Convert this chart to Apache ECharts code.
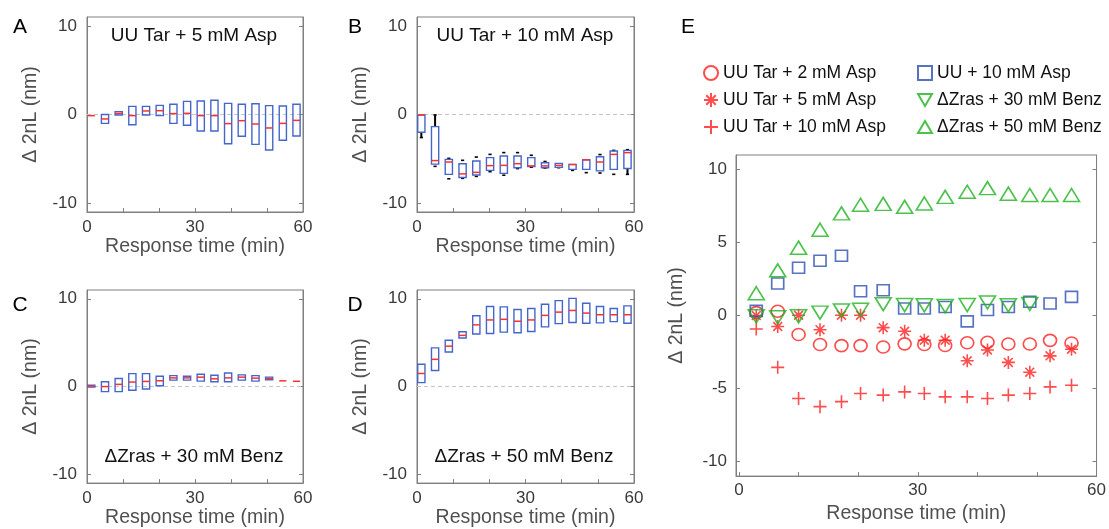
<!DOCTYPE html>
<html>
<head>
<meta charset="utf-8">
<script src="https://cdn.jsdelivr.net/npm/echarts@6/dist/echarts.min.js"></script>
<style>html,body{margin:0;padding:0;background:#fff;}#c{width:1109px;height:529px;}</style>
</head>
<body>
<div id="c"></div>
<script>
// ---------------- DATA ----------------
const boxTimes = [1.2, 5.0, 8.8, 12.6, 16.4, 20.2, 24.0, 27.8, 31.6, 35.4, 39.2, 43.0, 46.8, 50.6, 54.4, 58.2];
const xTicks = [0, 10, 20, 30, 40, 50, 60];
const xTickLabels = [0, 30, 60];
const yTicksBox = [-10, 0, 10];
const yTicksE = [-10, -5, 0, 5, 10];
const zeroLineX = [0, 60];

// Panel A: UU Tar + 5 mM Asp
const aQ3  = [-0.13, 0.0, 0.32, 0.92, 0.92, 1.03, 1.15, 1.48, 1.52, 1.6, 1.26, 1.15, 1.22, 1.0, 0.96, 1.15];
const aMed = [-0.13, -0.5, 0.13, -0.13, 0.4, 0.43, 0.1, 0.13, -0.13, -0.13, -1.03, -0.7, -1.07, -1.52, -1.0, -0.66];
const aQ1  = [-0.13, -1.0, -0.05, -1.15, -0.05, -0.13, -1.0, -1.22, -1.86, -1.86, -3.3, -2.46, -3.37, -4.0, -2.9, -2.43];

// Panel B: UU Tar + 10 mM Asp
const bHi  = [-0.05, -0.05, -4.95, -5.17, -4.8, -4.5, -4.3, -4.3, -4.6, -5.3, -5.51, -5.63, -5.1, -4.52, -4.05, -3.97];
const bQ3  = [-0.05, -1.37, -5.06, -5.55, -5.25, -4.87, -4.68, -4.68, -4.87, -5.44, -5.51, -5.63, -5.1, -4.76, -4.12, -4.05];
const bMed = [-0.05, -5.2, -5.36, -6.7, -6.53, -5.77, -5.74, -5.55, -5.8, -5.8, -5.74, -5.65, -5.12, -5.36, -4.5, -4.3];
const bQ1  = [-2.0, -5.6, -6.75, -7.1, -6.83, -6.3, -6.64, -6.0, -5.88, -6.0, -5.96, -6.19, -6.19, -6.36, -6.19, -6.1];
const bLo  = [-2.6, -5.85, -7.25, -7.2, -6.98, -6.45, -6.85, -6.1, -5.95, -6.05, -6.0, -6.3, -6.56, -6.6, -6.75, -6.75];

// Panel C: ΔZras + 30 mM Benz
const cQ3  = [0.15, 0.54, 0.92, 1.47, 1.47, 1.18, 1.25, 1.18, 1.4, 1.29, 1.55, 1.33, 1.25, 1.07, 0.65, 0.6];
const cMed = [0.05, 0.0, 0.25, 0.51, 0.58, 0.66, 0.99, 0.99, 1.07, 0.88, 0.99, 1.07, 0.96, 0.92, 0.65, 0.6];
const cQ1  = [-0.05, -0.58, -0.58, -0.43, -0.28, 0.09, 0.73, 0.73, 0.62, 0.54, 0.54, 0.73, 0.62, 0.77, 0.65, 0.6];

// Panel D: ΔZras + 50 mM Benz
const dQ3  = [2.54, 4.41, 5.27, 6.24, 8.07, 9.12, 9.08, 8.78, 8.89, 9.38, 9.79, 10.05, 9.49, 9.12, 8.89, 9.19];
const dMed = [1.49, 3.1, 4.6, 5.83, 7.03, 7.59, 7.66, 7.44, 7.59, 8.11, 8.48, 8.67, 8.37, 8.18, 8.18, 8.18];
const dQ1  = [0.45, 1.83, 3.93, 5.53, 5.98, 6.05, 6.2, 6.13, 6.28, 6.8, 7.17, 7.29, 7.21, 7.25, 7.4, 7.21];

// Panel E: medians
const eTimes = [2.9, 6.5, 10.0, 13.6, 17.2, 20.4, 24.2, 27.8, 31.1, 34.6, 38.3, 41.7, 45.2, 48.8, 52.2, 55.8];
const eTar2   = [0.2, 0.3, -1.3, -1.98, -2.06, -2.06, -2.15, -1.94, -1.98, -2.05, -1.86, -1.83, -1.95, -1.95, -1.7, -1.88];
const eTar5   = [0.0, -0.75, 0.02, -0.97, 0.02, 0.02, -0.83, -1.08, -1.69, -1.69, -3.1, -2.36, -3.21, -3.88, -2.76, -2.31];
const eTar10  = [-0.92, -3.55, -5.68, -6.24, -5.9, -5.34, -5.45, -5.23, -5.34, -5.57, -5.57, -5.68, -5.45, -5.34, -4.89, -4.78];
const eUU10   = [0.32, 2.2, 3.28, 3.75, 4.1, 1.66, 1.73, 0.49, 0.49, 0.58, -0.4, 0.38, 0.58, 0.94, 0.83, 1.28];
const eZras30 = [-0.05, -0.12, -0.05, 0.2, 0.35, 0.4, 0.78, 0.72, 0.7, 0.65, 0.72, 0.9, 0.7, 0.8];
const eZras50 = [1.53, 3.1, 4.65, 5.88, 7.0, 7.59, 7.65, 7.45, 7.68, 8.13, 8.48, 8.73, 8.35, 8.26, 8.26, 8.26];

const panelTitles = ['UU Tar + 5 mM Asp', 'UU Tar + 10 mM Asp', 'ΔZras + 30 mM Benz', 'ΔZras + 50 mM Benz'];
const legendNames = ['UU Tar + 2 mM Asp', 'UU Tar + 5 mM Asp', 'UU Tar + 10 mM Asp', 'UU + 10 mM Asp', 'ΔZras + 30 mM Benz', 'ΔZras + 50 mM Benz'];
const xName = 'Response time (min)';
const yName = 'Δ 2nL (nm)';

// ---------------- STYLE ----------------
const FONT = '"Liberation Sans", Arial, Helvetica, sans-serif';
const FRAME = '#7f7f7f';
const TXT = '#3a3a3a';
const BOX_BLUE = '#4466cc';
const MED_RED = '#ff3030';
const RED = '#ff1f1f', BLUE = '#2e4fb3', GREEN = '#1fb31f';
const BOX_HALF = 1.0;

const grids = [
  {left: 87, top: 17, width: 216, height: 195},
  {left: 417, top: 17, width: 217, height: 195},
  {left: 87, top: 290, width: 216, height: 195},
  {left: 417, top: 290, width: 217, height: 195},
  {left: 736, top: 155, width: 362, height: 327}
];

function boxData(lo, q1, med, q3, hi) {
  return boxTimes.map((t, i) => [t, lo[i], q1[i], med[i], q3[i], hi[i]]);
}

function renderBox(params, api) {
  const t = api.value(0);
  const lo = api.value(1), q1 = api.value(2), med = api.value(3), q3 = api.value(4), hi = api.value(5);
  const xl = api.coord([t - BOX_HALF, med])[0];
  const xr = api.coord([t + BOX_HALF, med])[0];
  const xc = api.coord([t, med])[0];
  const py = v => api.coord([t, v])[1];
  const ch = [];
  const addWhisker = (a, b) => {
    const ya = py(a), yb = py(b);
    if (Math.abs(yb - ya) > 5) {
      ch.push({type: 'line', shape: {x1: xc, y1: ya, x2: xc, y2: yb}, style: {stroke: '#000', lineWidth: 2}});
    }
    ch.push({type: 'line', shape: {x1: xc - 1.6, y1: ya, x2: xc + 1.6, y2: ya}, style: {stroke: '#000', lineWidth: 1.6}});
  };
  if (hi > q3 + 0.01) addWhisker(hi, q3);
  if (lo < q1 - 0.01) addWhisker(lo, q1);
  if (q3 > q1 + 0.01) {
    ch.push({type: 'rect', shape: {x: xl, y: py(q3), width: xr - xl, height: py(q1) - py(q3)},
      style: {fill: 'none', stroke: BOX_BLUE, lineWidth: 1.4}});
  }
  ch.push({type: 'line', shape: {x1: xl, y1: py(med), x2: xr, y2: py(med)}, style: {stroke: MED_RED, lineWidth: 1.5}});
  return {type: 'group', children: ch};
}

const xAxes = [], yAxes = [];
grids.forEach((g, i) => {
  const isE = i === 4;
  xAxes.push({
    gridIndex: i, type: 'value', min: isE ? -0.5 : 0, max: 60,
    axisLine: {show: true, onZero: false, lineStyle: {color: FRAME, width: 1}},
    axisTick: {show: true, inside: true, length: 4, customValues: xTicks, lineStyle: {color: FRAME}},
    axisLabel: {customValues: xTickLabels, fontSize: 17, color: TXT, fontFamily: FONT, margin: isE ? 6 : 7},
    splitLine: {show: false},
    name: xName, nameLocation: 'middle', nameGap: isE ? 26 : 23,
    nameTextStyle: {fontSize: 19.5, color: '#505050', fontFamily: FONT}
  });
  const yt = isE ? yTicksE : yTicksBox;
  yAxes.push({
    gridIndex: i, type: 'value', min: -11, max: 11, position: 'left',
    axisLine: {show: true, onZero: false, lineStyle: {color: FRAME, width: 1}},
    axisTick: {show: true, inside: true, length: 4, customValues: yt, lineStyle: {color: FRAME}},
    axisLabel: {customValues: yt, fontSize: 17, color: TXT, fontFamily: FONT, margin: isE ? 9 : 10},
    splitLine: {show: false},
    name: yName, nameLocation: 'middle', nameGap: isE ? 49 : 46,
    nameTextStyle: {fontSize: 19.5, color: '#505050', fontFamily: FONT}
  });
  yAxes.push({
    gridIndex: i, type: 'value', min: -11, max: 11, position: 'right',
    axisLine: {show: true, onZero: false, lineStyle: {color: FRAME, width: 1}},
    axisTick: {show: true, inside: true, length: 4, customValues: yt, lineStyle: {color: FRAME}},
    axisLabel: {show: false}, splitLine: {show: false}
  });
});

const series = [];
const boxSets = [
  boxData(aQ1, aQ1, aMed, aQ3, aQ3),
  boxData(bLo, bQ1, bMed, bQ3, bHi),
  boxData(cQ1, cQ1, cMed, cQ3, cQ3),
  boxData(dQ1, dQ1, dMed, dQ3, dQ3)
];
boxSets.forEach((d, i) => {
  series.push({
    type: 'line', xAxisIndex: i, yAxisIndex: 2 * i, silent: true, symbol: 'none', z: 1,
    data: zeroLineX.map(x => [x, 0]),
    lineStyle: {color: '#c4c4c4', width: 1, type: [4, 3]}
  });
  series.push({
    type: 'custom', xAxisIndex: i, yAxisIndex: 2 * i, z: 3, clip: true,
    renderItem: renderBox,
    encode: {x: 0, y: [1, 2, 3, 4, 5]},
    data: d
  });
});

function pts(ts, vs) { return vs.map((v, i) => [ts[i], v]); }
const SYM = {
  plus: 'path://M5,0L5,10M0,5L10,5',
  star: 'path://M5,0L5,10M0,5L10,5M1.6,1.6L8.4,8.4M1.6,8.4L8.4,1.6',
  triDown: 'path://M0,0L10,0L5,8.66Z',
  triUp: 'path://M5,0L10,8.66L0,8.66Z'
};
const eSeries = [
  {name: legendNames[0], data: pts(eTimes, eTar2), symbol: 'circle', symbolSize: [13, 12], c: RED},
  {name: legendNames[1], data: pts(eTimes, eTar5), symbol: SYM.star, symbolSize: [13, 13], c: RED},
  {name: legendNames[2], data: pts(eTimes, eTar10), symbol: SYM.plus, symbolSize: [13, 13], c: RED},
  {name: legendNames[3], data: pts(eTimes, eUU10), symbol: 'rect', symbolSize: [12, 11], c: BLUE},
  {name: legendNames[4], data: pts(eTimes, eZras30), symbol: SYM.triDown, symbolSize: [16, 13], c: GREEN},
  {name: legendNames[5], data: pts(eTimes, eZras50), symbol: SYM.triUp, symbolSize: [16, 13], c: GREEN}
];
eSeries.forEach(s => {
  series.push({
    type: 'scatter', name: s.name, xAxisIndex: 4, yAxisIndex: 8, data: s.data,
    symbol: s.symbol, symbolSize: s.symbolSize, z: 4,
    itemStyle: {color: 'transparent', borderColor: s.c, borderWidth: 1.6}
  });
});

const graphic = [];
const letters = [['A', 20, 27], ['B', 355, 27], ['C', 20, 305], ['D', 355, 305], ['E', 688, 27]];
letters.forEach(([t, x, y]) => graphic.push({
  type: 'text', x: x, y: y, silent: true,
  style: {text: t, fontSize: 21, fontFamily: FONT, fill: '#000', textAlign: 'center', textVerticalAlign: 'middle'}
}));
const titlePos = [[194, 36], [525, 36], [194, 457], [524, 457]];
panelTitles.forEach((t, i) => graphic.push({
  type: 'text', x: titlePos[i][0], y: titlePos[i][1], silent: true,
  style: {text: t, fontSize: 19, fontFamily: FONT, fill: '#111', textAlign: 'center', textVerticalAlign: 'middle'}
}));

const legendCommon = {
  orient: 'vertical', itemWidth: 14, itemHeight: 14, itemGap: 9,
  textStyle: {fontSize: 17.5, color: '#111', fontFamily: FONT},
  selectedMode: false
};

const option = {
  animation: false,
  backgroundColor: '#fff',
  grid: grids.map(g => Object.assign({show: true, borderColor: FRAME, borderWidth: 1, backgroundColor: 'transparent'}, g)),
  xAxis: xAxes,
  yAxis: yAxes,
  legend: [
    Object.assign({}, legendCommon, {data: legendNames.slice(0, 3), left: 698, top: 59}),
    Object.assign({}, legendCommon, {data: legendNames.slice(3), left: 912, top: 59})
  ],
  graphic: graphic,
  series: series
};

const chart = echarts.init(document.getElementById('c'), null, {renderer: 'canvas'});
chart.setOption(option);
</script>
</body>
</html>
